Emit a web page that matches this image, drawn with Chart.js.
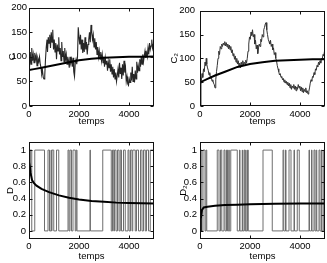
<!DOCTYPE html>
<html lang="fr">
<head>
    <meta charset="UTF-8">
    <title>C, C2, D, D2 en fonction du temps</title>
    <script src="https://cdn.jsdelivr.net/npm/chart.js@4.4.1/dist/chart.umd.min.js"></script>
    <style>
        body { margin: 0; background: #fff; }
        .fig { position: relative; width: 327px; height: 263px; overflow: hidden; }
        .fig canvas { position: absolute; }
    </style>
</head>
<body>
    <div class="fig">
        <canvas id="chartC" width="163" height="131" style="left:0;top:0"></canvas>
        <canvas id="chartC2" width="165" height="131" style="left:162px;top:0"></canvas>
        <canvas id="chartD" width="163" height="132" style="left:0;top:131px"></canvas>
        <canvas id="chartD2" width="165" height="132" style="left:162px;top:131px"></canvas>
    </div>

    <script>
        // --- data ---
        const xTicks = [0, 2000, 4000];
        const cTicks = [0, 50, 100, 150, 200];
        const dTicks = [0, 0.2, 0.4, 0.6, 0.8, 1];

        // C (top left), noisy trace
        const cTimes = [0,20,50,80,110,140,170,200,230,260,290,320,350,390,420,450,480,510,540,570,600,630,660,690,720,740,770,800,830,860,890,920,950,980,1010,1040,1070,1100,1130,1160,1190,1220,1250,1280,1310,1340,1370,1400,1430,1460,1490,1520,1550,1580,1610,1640,1670,1700,1730,1760,1790,1820,1850,1880,1910,1940,1970,2000,2030,2060,2090,2120,2150,2180,2210,2240,2270,2300,2330,2360,2390,2420,2450,2480,2510,2540,2570,2600,2630,2660,2690,2720,2750,2780,2810,2840,2870,2900,2930,2960,2990,3020,3050,3080,3110,3140,3170,3200,3230,3260,3290,3320,3350,3380,3410,3440,3470,3500,3530,3560,3590,3620,3650,3680,3710,3740,3770,3800,3830,3860,3890,3920,3950,3980,4010,4040,4070,4100,4130,4160,4190,4220,4250,4280,4310,4340,4370,4400,4430,4460,4490,4520,4550,4580,4610,4640,4670,4700,4730,4760,4790,4820,4850,4880,4910,4940,4970,5000];
        const cValues = [95,78,110,85,118,92,105,88,108,95,103,82,98,90,100,85,78,65,72,58,55,62,95,120,135,110,140,128,145,118,150,130,155,115,135,110,128,95,125,112,140,105,118,92,130,100,112,90,118,95,105,85,100,92,78,100,88,95,80,98,70,60,88,95,85,100,160,140,125,145,115,135,108,128,110,140,115,130,105,125,135,150,130,165,150,135,145,120,138,115,130,105,120,100,112,95,110,92,105,88,100,80,98,85,92,72,90,78,95,70,85,65,80,58,75,55,68,50,62,75,58,88,65,78,55,85,62,92,68,78,50,60,45,42,55,48,68,52,80,50,65,48,72,55,90,68,82,72,95,80,100,85,105,90,102,112,98,108,100,118,105,128,115,122,135,118,125,122];
        // C, running mean (thick line)
        const cMeanTimes = [0,200,500,800,1000,1500,2000,2500,3000,3500,4000,4500,5000];
        const cMeanValues = [73,75,78,81,83,88,93,96,98,99,100,100,100.5];

        // C2 (top right), noisy trace
        const c2Times = [0,20,50,80,110,140,170,200,230,250,270,300,330,360,390,420,450,480,510,540,570,600,630,660,690,720,750,780,810,840,870,900,930,960,990,1020,1050,1080,1110,1140,1170,1200,1230,1260,1290,1320,1350,1380,1410,1440,1470,1500,1530,1560,1590,1620,1650,1680,1710,1740,1770,1800,1830,1860,1890,1920,1950,1980,2010,2040,2070,2100,2130,2160,2190,2220,2250,2280,2310,2340,2370,2400,2430,2460,2490,2520,2550,2580,2610,2640,2670,2700,2730,2760,2790,2820,2850,2880,2910,2940,2970,3000,3030,3060,3090,3120,3150,3180,3210,3240,3270,3300,3330,3360,3390,3420,3450,3480,3510,3540,3570,3600,3630,3660,3690,3720,3750,3780,3810,3840,3870,3900,3930,3960,3990,4020,4050,4080,4110,4140,4170,4200,4230,4260,4290,4320,4350,4380,4410,4440,4470,4500,4530,4560,4590,4620,4650,4680,4710,4740,4770,4800,4830,4860,4890,4920,4950,4980,5000];
        const c2Values = [48,55,50,68,60,78,72,92,85,100,88,80,75,65,70,58,62,52,55,48,45,38,55,72,85,100,115,108,125,120,130,125,132,128,135,126,133,124,130,120,128,118,125,112,118,105,110,98,105,92,100,88,95,82,90,80,92,85,95,86,92,88,96,90,100,115,130,145,140,155,148,160,145,150,130,138,120,128,110,122,130,125,140,135,150,145,160,165,172,175,160,150,140,135,130,138,125,130,118,122,108,112,100,95,85,78,72,65,68,60,62,55,58,50,55,48,52,45,50,42,48,38,45,35,42,38,45,35,42,32,40,35,45,38,42,32,40,30,38,28,35,30,38,28,32,25,30,38,48,55,52,62,60,70,66,78,75,85,82,92,86,95,90,100,98,108,105,115,120];
        const c2MeanTimes = [0,15,100,300,600,1000,1500,2000,2500,3000,3500,4000,4500,5000];
        const c2MeanValues = [0,48,52,57,64,72,82,88,92,95,96,97,98,98];

        // D (bottom left), 0/1 signal: value holds from each time to the next
        const dTimes = [0,110,230,620,760,820,880,900,920,990,1100,1190,1560,1600,1640,1700,1760,1850,1890,1920,2440,2455,2950,3290,3340,3390,3420,3480,3540,3600,3650,3700,3780,3850,3960,4000,4060,4120,4150,4250,4300,4380,4460,4520,4580,4650,4700,4780,4850,5000];
        const dValues = [1,0,1,0,1,0,1,0,1,0,1,0,1,0,1,0,1,0,1,0,1,0,1,0,1,0,1,0,1,0,1,0,1,0,1,0,1,0,1,0,1,0,1,0,1,0,1,0,1,1];
        const dMeanTimes = [0,20,60,120,200,300,500,800,1200,1600,2000,2500,3000,3500,4000,5000];
        const dMeanValues = [1,0.85,0.72,0.63,0.59,0.56,0.52,0.48,0.44,0.41,0.39,0.37,0.36,0.35,0.345,0.34];

        // D2 (bottom right)
        const d2Times = [0,70,120,200,240,270,690,760,820,870,960,1000,1060,1100,1150,1170,1230,1490,1580,1600,1690,1700,1760,1790,1830,1840,1900,1930,2520,2890,3320,3350,3420,3440,3560,3640,3760,3780,3890,3970,4360,4380,4460,4480,4560,4600,4650,4670,4760,4800,4860,4880,4950,4970,5000];
        const d2Values = [1,0,1,0,1,0,1,0,1,0,1,0,1,0,1,0,1,0,1,0,1,0,1,0,1,0,1,0,1,0,1,0,1,0,1,0,1,0,1,0,1,0,1,0,1,0,1,0,1,0,1,0,1,0,0];
        const d2MeanTimes = [0,30,80,150,300,600,1000,1500,2000,3000,4000,5000];
        const d2MeanValues = [0,0.15,0.26,0.29,0.3,0.31,0.32,0.325,0.33,0.335,0.34,0.34];

        // --- helpers ---
        const FONT = { family: "'Liberation Sans', Arial, sans-serif", size: 9.5 };

        function pts(times, values) {
            return times.map((t, i) => ({ x: t, y: values[i] }));
        }

        // matlab-like box with inward ticks
        const boxPlugin = {
            id: 'box',
            afterDraw(chart) {
                const { ctx, chartArea: a, scales } = chart;
                const l = Math.round(a.left) + 0.5, r = Math.round(a.right) - 0.5;
                const t = Math.round(a.top) + 0.5, b = Math.round(a.bottom) - 0.5;
                ctx.save();
                ctx.strokeStyle = '#111';
                ctx.lineWidth = 1;
                ctx.strokeRect(l, t, r - l, b - t);
                ctx.beginPath();
                scales.x.ticks.forEach(tk => {
                    const px = Math.round(scales.x.getPixelForValue(tk.value)) + 0.5;
                    ctx.moveTo(px, b); ctx.lineTo(px, b - 3);
                    ctx.moveTo(px, t); ctx.lineTo(px, t + 3);
                });
                scales.y.ticks.forEach(tk => {
                    const py = Math.round(scales.y.getPixelForValue(tk.value)) + 0.5;
                    ctx.moveTo(l, py); ctx.lineTo(l + 3, py);
                    ctx.moveTo(r, py); ctx.lineTo(r - 3, py);
                });
                ctx.stroke();
                ctx.restore();
            }
        };

        function makeChart(id, cfg) {
            new Chart(document.getElementById(id), {
                type: 'line',
                data: {
                    datasets: [
                        { data: cfg.mean, borderColor: '#000', borderWidth: 2, pointRadius: 0, tension: 0 },
                        { data: cfg.series, borderColor: cfg.lineColor, borderWidth: cfg.lineWidth, pointRadius: 0,
                          tension: 0, stepped: cfg.stepped || false }
                    ]
                },
                options: {
                    responsive: false,
                    animation: false,
                    events: [],
                    layout: { padding: { top: cfg.padTop, right: cfg.padRight, left: 0, bottom: 0 } },
                    plugins: { legend: { display: false }, tooltip: { enabled: false } },
                    scales: {
                        x: {
                            type: 'linear', min: 0, max: 5000,
                            afterBuildTicks: s => { s.ticks = xTicks.map(v => ({ value: v })); },
                            afterFit: s => { s.height = cfg.xHeight; },
                            grid: { display: false, drawTicks: false },
                            border: { display: false },
                            ticks: { color: '#000', font: FONT, padding: cfg.xTickPad, maxRotation: 0,
                                     callback: v => String(v) },
                            title: { display: true, text: 'temps', color: '#000', font: FONT,
                                     padding: { top: 0, bottom: cfg.xTitlePad } }
                        },
                        y: {
                            type: 'linear', min: cfg.yMin, max: cfg.yMax,
                            afterBuildTicks: s => { s.ticks = cfg.yTicks.map(v => ({ value: v })); },
                            afterFit: s => { s.width = cfg.yWidth; },
                            grid: { display: false, drawTicks: false },
                            border: { display: false },
                            ticks: { color: '#000', font: FONT, padding: cfg.yTickPad,
                                     callback: v => String(v) },
                            title: { display: true, text: cfg.yLabel, color: '#000', font: FONT,
                                     padding: { top: cfg.yTitlePad, bottom: 0 } }
                        }
                    }
                },
                plugins: [boxPlugin]
            });
        }

        makeChart('chartC', {
            series: pts(cTimes, cValues), mean: pts(cMeanTimes, cMeanValues), lineColor: '#262626', lineWidth: 1.1,
            yMin: 0, yMax: 200, yTicks: cTicks, yLabel: 'C',
            padTop: 7, padRight: 9, xHeight: 25, yWidth: 29,
            xTickPad: 3, xTitlePad: 4, yTickPad: 2, yTitlePad: 7
        });
        makeChart('chartC2', {
            series: pts(c2Times, c2Values), mean: pts(c2MeanTimes, c2MeanValues), lineColor: '#333', lineWidth: 1,
            yMin: 0, yMax: 200, yTicks: cTicks, yLabel: 'C₂',
            padTop: 7, padRight: 2, xHeight: 25, yWidth: 38,
            xTickPad: 3, xTitlePad: 4, yTickPad: 5, yTitlePad: 7
        });
        makeChart('chartD', {
            series: pts(dTimes, dValues), mean: pts(dMeanTimes, dMeanValues), lineColor: '#6e6e6e', lineWidth: 1,
            stepped: 'before',
            yMin: -0.1, yMax: 1.1, yTicks: dTicks, yLabel: 'D',
            padTop: 11, padRight: 9, xHeight: 24, yWidth: 29,
            xTickPad: 2, xTitlePad: 1, yTickPad: 3, yTitlePad: 5
        });
        makeChart('chartD2', {
            series: pts(d2Times, d2Values), mean: pts(d2MeanTimes, d2MeanValues), lineColor: '#6e6e6e', lineWidth: 1,
            stepped: 'before',
            yMin: -0.1, yMax: 1.1, yTicks: dTicks, yLabel: 'D₂',
            padTop: 11, padRight: 2, xHeight: 24, yWidth: 38,
            xTickPad: 2, xTitlePad: 1, yTickPad: 3, yTitlePad: 16
        });
    </script>
</body>
</html>
